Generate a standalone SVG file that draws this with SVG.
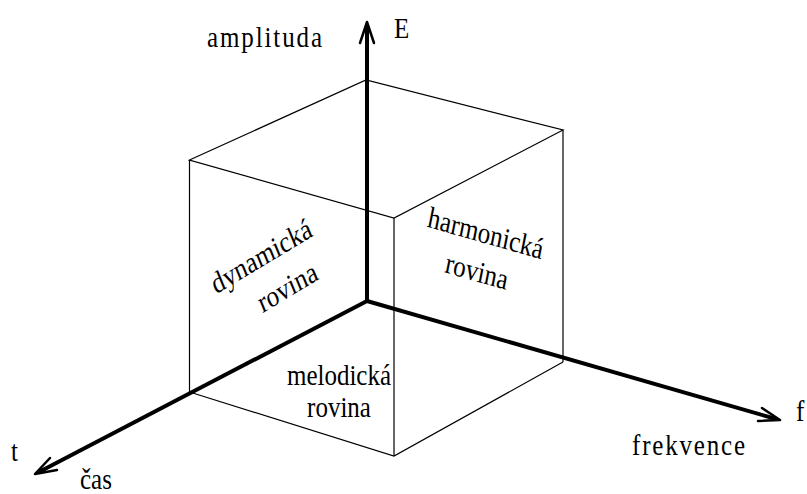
<svg xmlns="http://www.w3.org/2000/svg" width="807" height="494" viewBox="0 0 807 494">
  <style>
    .edge { stroke: #000; stroke-width: 1.2; fill: none; }
    .axis { stroke: #000; stroke-width: 4; fill: none; }
    .head { stroke: #000; stroke-width: 2.5; fill: none; stroke-linecap: round; stroke-linejoin: round; }
    .lbl { font-family: 'Liberation Serif', 'DejaVu Serif', 'Times New Roman', serif; font-size: 25px; fill: #000; }
  </style>
  <rect width="807" height="494" fill="#fff"/>

  <!-- cube edges -->
  <g id="cube">
    <polygon class="edge" points="189.5,160 366,80 563,130 394,218"/>
    <line class="edge" x1="189.5" y1="160" x2="189.5" y2="392"/>
    <line class="edge" x1="394" y1="218" x2="394" y2="456"/>
    <line class="edge" x1="563" y1="130" x2="563" y2="362"/>
    <polyline class="edge" points="189.5,392 394,456 563,362"/>
  </g>

  <!-- coordinate axes -->
  <g id="connectors">
    <line class="axis" x1="367" y1="301" x2="367" y2="24"/>
    <polyline class="head" points="360,43 367,22 374,43"/>
    <line class="axis" x1="367" y1="301" x2="776" y2="419"/>
    <polyline class="head" points="762,408 780,420 758,421"/>
    <line class="axis" x1="367" y1="301" x2="39" y2="472"/>
    <polyline class="head" points="50,458 35,474 57,470"/>
  </g>

  <!-- labels are drawn in a slightly tall, narrow face (vertical scale 1.2) -->
  <g id="axis-labels">
    <text class="lbl" transform="translate(207,47) scale(1,1.2)" textLength="115" lengthAdjust="spacing">amplituda</text>
    <text class="lbl" transform="translate(394,38) scale(1,1.2)">E</text>
    <text class="lbl" transform="translate(796,421) scale(1,1.2)">f</text>
    <text class="lbl" transform="translate(632,455) scale(1,1.2)" textLength="113" lengthAdjust="spacing">frekvence</text>
    <text class="lbl" transform="translate(11,461) scale(1,1.2)">t</text>
    <text class="lbl" transform="translate(80,489) scale(1,1.2)">čas</text>
  </g>

  <g id="plane-dynamic">
    <text class="lbl" transform="translate(265,265) scale(1,1.2) rotate(-26.6)" text-anchor="middle">dynamická</text>
    <text class="lbl" transform="translate(291,296) scale(1,1.2) rotate(-26.6)" text-anchor="middle">rovina</text>
  </g>
  <g id="plane-harmonic">
    <text class="lbl" transform="translate(484,243) scale(1,1.2) rotate(13.4)" text-anchor="middle">harmonická</text>
    <text class="lbl" transform="translate(475,281) scale(1,1.2) rotate(13.4)" text-anchor="middle">rovina</text>
  </g>
  <g id="plane-melodic">
    <text class="lbl" transform="translate(339,385) scale(1,1.2)" text-anchor="middle">melodická</text>
    <text class="lbl" transform="translate(339,417) scale(1,1.2)" text-anchor="middle">rovina</text>
  </g>
</svg>
